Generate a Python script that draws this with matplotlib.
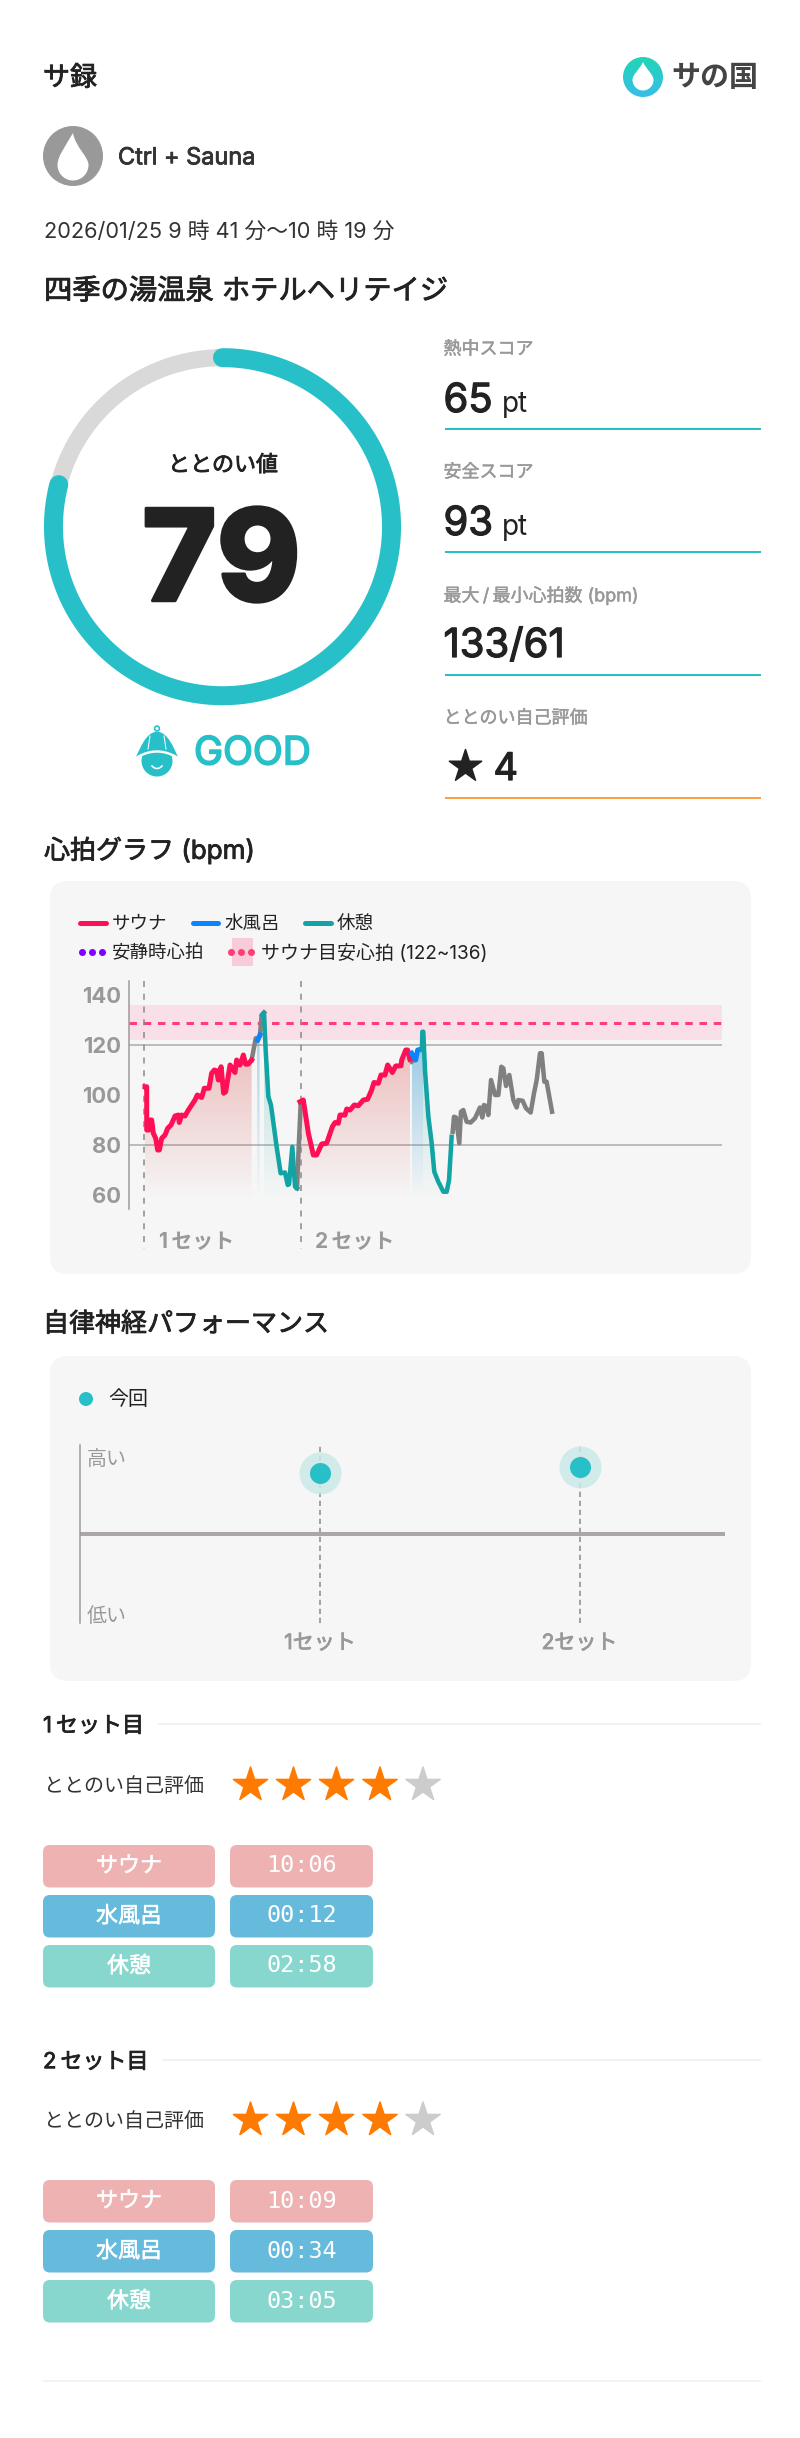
import numpy as np
import matplotlib
matplotlib.use('Agg')
import matplotlib.pyplot as plt
import matplotlib.patheffects as pe
from matplotlib.patches import Circle, FancyBboxPatch, PathPatch, Rectangle
from matplotlib.path import Path

plt.rcParams['font.family'] = ['Inter', 'Noto Sans CJK JP', 'DejaVu Sans']

W, H = 800, 2438
DPI = 100

TEAL = '#28C0C8'
INK = '#222222'
GREY_TEXT = '#999999'
SAUNA = '#FF0F55'
WATER = '#0A84FF'
REST = '#12A4A4'
TAIL = '#808080'
PANEL = '#F6F6F6'

# summary
SCORE = 79
SCORE_ITEMS = ['熱中スコア', '安全スコア', '最大\u2009/\u2009最小心拍数 (bpm)', 'ととのい自己評価']
HEAT_SCORE = '65'
SAFE_SCORE = '93'
MAX_MIN_HR = '133/61'
SELF_RATING = '4'

# heart rate, minutes from the first set against bpm
SAUNA1_T = [0.08, 0.23, 0.23, 0.42, 0.51, 0.65, 0.79, 0.99, 1.16, 1.30, 1.50, 1.78, 2.01, 2.29, 2.63, 2.91, 2.99,
            3.19, 3.47, 3.76, 4.04, 4.32, 4.52, 4.89, 5.11, 5.51, 5.73, 5.96, 6.16, 6.30, 6.53, 6.75, 6.92, 7.29,
            7.49, 7.71, 7.85, 8.14, 8.42, 8.62, 8.84, 9.12]
SAUNA1_BPM = [103.3, 103.3, 86, 86, 90, 90, 84.7, 82.7, 78, 78, 82.7, 84, 86.7, 88, 91.6, 92, 89,
              92, 91.6, 94, 96, 98, 100, 99, 102.7, 102.7, 108.7, 110, 109.7, 106, 111.3, 100.7, 101.3, 112,
              110.7, 109, 114, 112, 116, 112.3, 112.4, 114]
WATER1_T = [9.63, 9.83]
WATER1_BPM = [122, 124]
REST1_T = [10.02, 10.17, 10.31, 10.54, 10.76, 11.24, 11.58, 11.95, 12.18, 12.29, 12.57, 12.80, 12.97]
REST1_BPM = [132, 133, 118, 99.3, 96, 79.3, 68.7, 69, 64, 64.3, 79.3, 63.3, 62.7]
SAUNA2_T = [13.22, 13.5, 13.93, 14.35, 14.63, 15.06, 15.48, 15.96, 16.19, 16.47, 16.61, 17.03, 17.18, 17.46, 17.82,
            18.16, 18.59, 18.95, 19.29, 19.49, 19.86, 20.08, 20.42, 20.65, 21.05, 21.33, 21.78, 21.84, 22.18,
            22.34, 22.54]
SAUNA2_BPM = [97.3, 98, 84.7, 76, 76, 80.4, 80.7, 87.3, 89, 88.7, 92, 92, 94.4, 94, 96,
              95.7, 98, 98.3, 102, 105, 104.7, 108, 108, 112, 109, 111.6, 111.7, 114, 118,
              118, 114.3]
WATER2_T = [22.68, 23.02, 23.19, 23.47]
WATER2_BPM = [116.7, 114, 118, 118.3]
REST2_T = [23.55, 23.59, 23.67, 23.81, 24.1, 24.38, 24.6, 24.94, 25.37, 25.65, 25.85, 26.07]
REST2_BPM = [118, 125.3, 125.3, 110, 91.3, 80.7, 69.3, 65.3, 61.3, 61.3, 66, 83.3]
GAP1_T = [9.12, 9.47, 9.63]
GAP1_BPM = [114, 122.7, 122]
GAP2_T = [9.83, 9.97, 10.17]
GAP2_BPM = [124, 132, 133]
GAP3_T = [12.97, 13.1, 13.28]
GAP3_BPM = [62.7, 78, 96.7]
GAP4_T = [22.54, 22.68]
GAP4_BPM = [114.3, 113.3]
TAIL_T = [26.16, 26.27, 26.44, 26.72, 26.86, 27.06, 27.34, 27.68, 28.05, 28.47, 28.67, 28.81, 28.98, 29.18, 29.41,
          29.75, 30.03, 30.28, 30.45, 30.68, 30.96, 31.3, 31.58, 31.72, 32.09, 32.37, 32.77, 33.05, 33.28, 33.56,
          33.7, 33.93, 34.12, 34.58]
TAIL_BPM = [85.3, 91.3, 91, 80.7, 93.3, 94, 89.3, 89, 90.7, 95, 91, 96, 95.6, 92, 106,
            100, 100, 111.3, 110.7, 103.6, 108, 98, 95, 98, 97.7, 94.7, 93, 100.7, 106, 116.7,
            116.7, 105.3, 105.3, 93.3]
SET_STARTS = [0.0, 13.28]
TARGET_LOW, TARGET_HIGH = 122, 136
TARGET_MID = 129
HR_TICKS = [60, 80, 100, 120, 140]
HR_GRID = [80, 120]

# autonomic performance
PERF_SETS = [1, 2]
PERF_VALUES = [0.685, 0.753]
SET_NAMES = ['1セット', '2セット']

# set details
ROW_LABELS = ['サウナ', '水風呂', '休憩']
SET1_TIMES = ['10:06', '00:12', '02:58']
SET2_TIMES = ['10:09', '00:34', '03:05']
SET_RATINGS = [4, 4]
CHIP_COLORS = ['#EFB2B2', '#66BBDD', '#88D7CE']


def pt(px):
    return px * 72 / DPI


fig = plt.figure(figsize=(W / DPI, H / DPI), dpi=DPI, facecolor='white')
page = fig.add_axes([0, 0, 1, 1])
page.set_xlim(0, W)
page.set_ylim(H, 0)
page.axis('off')


def sub_axes(x0, y0, x1, y1, **kw):
    return fig.add_axes([x0 / W, 1 - y1 / H, (x1 - x0) / W, (y1 - y0) / H], **kw)


def thicken(t, color, amount=0.6):
    # neither Inter nor Noto CJK comes in a medium cut here, so fatten the regular one
    t.set_path_effects([pe.withStroke(linewidth=amount, foreground=color)])
    return t


def label(x, y, s, size, color=INK, medium=0, weight=400, ha='left', **kw):
    t = page.text(x, y + 0.1 * size, s, fontsize=pt(size), color=color, fontweight=weight, ha=ha, va='center', **kw)
    if medium:
        thicken(t, color, medium)
    return t


def number(x, y, s, size, medium=True):
    t = page.text(x, y, s, fontsize=pt(size), color=INK, va='baseline')
    if medium:
        thicken(t, INK, 0.9)


def rounded(x0, y0, x1, y1, r, color):
    page.add_patch(FancyBboxPatch((x0 + r, y0 + r), x1 - x0 - 2 * r, y1 - y0 - 2 * r,
                                  boxstyle=f'round,pad={r}', fc=color, ec='none'))


def hline(x0, x1, y, color, lw):
    page.plot([x0, x1], [y, y], color=color, lw=pt(lw), solid_capstyle='butt')


def drop(cx, cy, r, tip, color, bend=0.0, zorder=3):
    verts = [(cx, cy - tip), (cx + bend + r * 0.35, cy - tip * 0.55), (cx + r, cy - r * 0.55), (cx + r, cy),
             (cx + r, cy + r * 0.55), (cx + r * 0.55, cy + r), (cx, cy + r),
             (cx - r * 0.55, cy + r), (cx - r, cy + r * 0.55), (cx - r, cy),
             (cx - r, cy - r * 0.55), (cx + bend - r * 0.35, cy - tip * 0.55), (cx, cy - tip)]
    codes = [Path.MOVETO] + [Path.CURVE4] * 12
    page.add_patch(PathPatch(Path(verts, codes), fc=color, ec='none', zorder=zorder))


def star_row(y, rating):
    xs = [250.5, 293.5, 336.5, 380, 423]
    colors = ['#FF7A00' if i < rating else '#CCCCCC' for i in range(5)]
    page.scatter(xs, [y] * 5, marker='*', s=pt(36) ** 2, c=colors, linewidths=pt(1.5), edgecolors=colors)


# header
label(43, 76, 'サ録', 27, medium=0.6)
page.add_patch(Circle((73, 156), 30, fc='#999999', ec='none'))
drop(73, 165, 15.5, 32, 'white', bend=-3)
label(118, 156, 'Ctrl + Sauna', 23.5, color='#333333', medium=0.6)
label(44, 229, '2026/01/25 9 時 41 分〜10 時 19 分', 21.8, color='#333333')
label(44, 289, '四季の湯温泉 ホテルヘリテイジ', 28.3, medium=0.6)

# logo
grad = np.linspace(0, 1, 64)[:, None, None] * np.array([56 - 32, 189 - 214, 232 - 181]) / 255 \
    + np.array([32, 214, 181]) / 255
logo_im = page.imshow(grad, extent=[623, 663, 97, 57], aspect='auto', zorder=2)
logo_clip = Circle((643, 77), 20, transform=page.transData)
logo_im.set_clip_path(logo_clip)
page.set_xlim(0, W)
page.set_ylim(H, 0)
drop(643, 80, 10.5, 18, 'white')
label(714.5, 76, 'サの国', 29, color='#444444', weight=700, ha='center')

# gauge
R_OUT = 178.5
CX, CY = 222.5, 526.7
ring = sub_axes(CX - R_OUT, CY - R_OUT, CX + R_OUT, CY + R_OUT, polar=True)
ring.set_theta_zero_location('N')
ring.set_theta_direction(-1)
ring.set_rlim(0, 1)
ring.axis('off')
track = np.linspace(0, 2 * np.pi, 361)
ring.plot(track, np.full(361, 0.947), color='#D9D9D9', lw=pt(17), clip_on=False)
arc = np.linspace(0, 2 * np.pi * SCORE / 100, 300)
ring.plot(arc, np.full(300, 0.947), color=TEAL, lw=pt(19), solid_capstyle='round', clip_on=False)

label(223, 463, 'ととのい値', 22, medium=0.6, ha='center')
label(221.5, 555, str(SCORE), 127, weight=800, medium=2.2, ha='center')
label(194, 750, 'GOOD', 39, color=TEAL, medium=1.2)

# helmet mascot
page.add_patch(Circle((157, 728.5), 2.4, fc='white', ec=TEAL, lw=pt(1.6)))
page.add_patch(Circle((157, 761), 15.5, fc=TEAL, ec='none'))
hat_verts = [(136, 758), (141, 748), (146, 733), (157, 732), (168, 733), (173, 748), (178, 758), (157, 749), (136, 758)]
hat_codes = [Path.MOVETO, Path.CURVE4, Path.CURVE4, Path.CURVE4, Path.CURVE4, Path.CURVE4, Path.CURVE4,
             Path.LINETO, Path.CLOSEPOLY]
page.add_patch(PathPatch(Path(hat_verts, hat_codes), fc=TEAL, ec=TEAL, lw=pt(1)))
brim = np.linspace(136, 178, 30)
page.plot(brim, 751.5 + 6.5 * ((brim - 157) / 21) ** 2, color='white', lw=pt(2.4))
page.plot([150, 148], [736, 749], color='white', lw=pt(1))
page.plot([164, 166], [736, 749], color='white', lw=pt(1))
smile = np.linspace(152, 162, 14)
page.plot(smile, 766 + 2.5 * (1 - ((smile - 157) / 5) ** 2), color='white', lw=pt(1.6))

# score column
for y, s in zip([348, 471, 594, 717], SCORE_ITEMS):
    label(443.5, y, s, 18, color=GREY_TEXT, medium=0.35)
number(443.5, 412, HEAT_SCORE, 40)
number(501.5, 412, 'pt', 28, medium=False)
number(443.5, 535, SAFE_SCORE, 40)
number(501.5, 535, 'pt', 28, medium=False)
number(443.5, 657, MAX_MIN_HR, 40)
page.scatter([465], [766], marker='*', s=pt(34) ** 2, c=INK, linewidths=pt(1.5), edgecolors=INK)
number(493.5, 780, SELF_RATING, 38)
for y, c in zip([429, 552, 675], [TEAL] * 3):
    hline(445, 761, y, c, 2)
hline(445, 761, 798, '#FF9F43', 2)

# heart rate section
label(44, 848, '心拍グラフ (bpm)', 26, medium=0.6)
rounded(50, 881, 751, 1274, 18, PANEL)

page.plot([80, 106], [923, 923], color=SAUNA, lw=pt(5), solid_capstyle='round')
label(112, 923, 'サウナ', 18.5)
page.plot([193, 218], [923, 923], color=WATER, lw=pt(5), solid_capstyle='round')
label(224, 923, '水風呂', 18.5)
page.plot([305, 331], [923, 923], color=REST, lw=pt(5), solid_capstyle='round')
label(337, 923, '休憩', 18.5)
page.plot([82, 92, 102], [952, 952, 952], ls='none', marker='o', ms=pt(7), color='#8000FF', mew=0)
label(112, 952, '安静時心拍', 18.5)
page.add_patch(Rectangle((232, 938), 21, 28, fc='#F7CBD8', ec='none'))
page.plot([231, 241, 251], [952, 952, 952], ls='none', marker='o', ms=pt(7), color='#FF3D77', mew=0)
label(261, 952, 'サウナ目安心拍 (122~136)', 19)

X0, X1, Y0, Y1 = 129, 722, 981, 1209
PX_PER_MIN = 11.8
hr = sub_axes(X0, Y0, X1, Y1, facecolor='none')

hr.axhspan(TARGET_LOW, TARGET_HIGH, color='#F9DFE8', lw=0, zorder=0)
for g in HR_GRID:
    hr.axhline(g, color='#AAAAAA', lw=pt(1.5), zorder=1)
hr.axhline(TARGET_MID, color='#FF3D77', lw=pt(3), dashes=(2.5, 2.25), zorder=2)


def shade(ts, bpm, rgb, top_alpha):
    poly = hr.fill_between(ts, bpm, 58, color='none', lw=0)
    ramp = np.zeros((128, 2, 4))
    ramp[..., :3] = rgb
    ramp[..., 3] = np.linspace(top_alpha, 0, 128)[:, None]
    im = hr.imshow(ramp, extent=[min(ts), max(ts), 58, 128], aspect='auto', origin='upper', zorder=1.5,
                   interpolation='bilinear')
    im.set_clip_path(poly.get_paths()[0], transform=hr.transData)


PINK_RGB = (0.86, 0.30, 0.30)
BLUE_RGB = (0.15, 0.58, 0.82)
GREEN_RGB = (0.10, 0.68, 0.62)
shade(SAUNA1_T, SAUNA1_BPM, PINK_RGB, 0.38)
shade([9.56, 9.80], [122, 124], BLUE_RGB, 0.36)
shade(REST1_T[1:], REST1_BPM[1:], GREEN_RGB, 0.30)
shade(SAUNA2_T, SAUNA2_BPM, PINK_RGB, 0.38)
shade(WATER2_T + [23.62], WATER2_BPM + [124], BLUE_RGB, 0.50)
shade(REST2_T[1:], REST2_BPM[1:], GREEN_RGB, 0.30)

for ts, bpm in [(GAP1_T, GAP1_BPM), (GAP2_T, GAP2_BPM), (GAP3_T, GAP3_BPM), (GAP4_T, GAP4_BPM), (TAIL_T, TAIL_BPM)]:
    hr.plot(ts, bpm, color=TAIL, lw=pt(4.5), zorder=3, solid_joinstyle='round')
for ts, bpm in [(SAUNA1_T, SAUNA1_BPM), (SAUNA2_T, SAUNA2_BPM)]:
    hr.plot(ts, bpm, color=SAUNA, lw=pt(5), zorder=4, solid_joinstyle='round')
for ts, bpm in [(WATER1_T, WATER1_BPM), (WATER2_T, WATER2_BPM)]:
    hr.plot(ts, bpm, color=WATER, lw=pt(5), zorder=4, solid_joinstyle='round')
for ts, bpm in [(REST1_T, REST1_BPM), (REST2_T, REST2_BPM)]:
    hr.plot(ts, bpm, color=REST, lw=pt(4.5), zorder=4, solid_joinstyle='round')

for start, name in zip(SET_STARTS, SET_NAMES):
    hr.plot([start, start], [145.6, 38.6], color='#888888', lw=pt(1.5), dashes=(4, 4.5), clip_on=False, zorder=2)
    hr.text(start + 1.25, 41, name.replace('セ', '\u2009セ'), fontsize=pt(21), color=GREY_TEXT, fontweight=700,
            va='center', clip_on=False)

hr.set_xlim(-(144 - X0) / PX_PER_MIN, (X1 - 144) / PX_PER_MIN)
hr.set_ylim(120 - (Y1 - 1045) / 2.5, 120 + (1045 - Y0) / 2.5)
hr.set_xticks([])
hr.set_yticks(HR_TICKS)
hr.tick_params(axis='y', length=0, pad=pt(8), labelsize=pt(22), labelcolor=GREY_TEXT)
for t in hr.get_yticklabels():
    t.set_fontweight(700)
for side in ['top', 'right', 'bottom']:
    hr.spines[side].set_visible(False)
hr.spines['left'].set_color('#999999')
hr.spines['left'].set_linewidth(pt(1.5))

# autonomic performance section
label(43, 1322, '自律神経パフォーマンス', 26, medium=0.6)
rounded(50, 1356, 751, 1681, 18, PANEL)
page.add_patch(Circle((86, 1399), 7, fc=TEAL, ec='none'))
label(108, 1398, '今回', 20)

PX0, PX1, PY0, PY1 = 80, 725, 1445, 1623
perf = sub_axes(PX0, PY0, PX1, PY1, facecolor='none')
PX_PER_SET = 259.5
for s in PERF_SETS:
    perf.axvline(s, color='#888888', lw=pt(1.5), dashes=(3.5, 2.5), zorder=1)
perf.axhline(0, color='#AAA6AA', lw=pt(4), zorder=2)
perf.scatter(PERF_SETS, PERF_VALUES, s=pt(42) ** 2, color='#CBE9E9', alpha=0.85, lw=0, zorder=3, clip_on=False)
perf.scatter(PERF_SETS, PERF_VALUES, s=pt(21) ** 2, color=TEAL, lw=0, zorder=4, clip_on=False)
perf.set_xlim(1 - (320 - PX0) / PX_PER_SET, 1 + (PX1 - 320) / PX_PER_SET)
perf.set_ylim(-1, 1)
perf.set_xticks(PERF_SETS)
perf.set_xticklabels(SET_NAMES, fontsize=pt(21), color=GREY_TEXT)
for t in perf.get_xticklabels():
    thicken(t, GREY_TEXT)
perf.set_yticks([])
perf.tick_params(axis='x', length=0, pad=pt(10))
for side in ['top', 'right', 'bottom']:
    perf.spines[side].set_visible(False)
perf.spines['left'].set_color('#999999')
perf.spines['left'].set_linewidth(pt(1.5))
label(87, 1458, '高い', 20, color=GREY_TEXT)
label(87, 1615, '低い', 20, color=GREY_TEXT)

# set details
SET_TOPS = [1845, 2180]
HEADER_Y = [1724, 2060]
HEADER_NAMES = ['1\u2009セット目', '2\u2009セット目']
RULE_START = [158, 162]
RATING_Y = [1785, 2120]
for i, times in enumerate([SET1_TIMES, SET2_TIMES]):
    label(43, HEADER_Y[i], HEADER_NAMES[i], 22, medium=0.6)
    hline(RULE_START[i], 761, HEADER_Y[i], '#EEEEEE', 1.5)
    label(44, RATING_Y[i], SCORE_ITEMS[3], 20, color='#333333')
    star_row(RATING_Y[i], SET_RATINGS[i])
    for j, (name, value, color) in enumerate(zip(ROW_LABELS, times, CHIP_COLORS)):
        top = SET_TOPS[i] + j * 50
        rounded(43, top, 215, top + 42.5, 7, color)
        rounded(230, top, 373, top + 42.5, 7, color)
        label(129, top + 19, name, 22, color='white', medium=0.4, ha='center')
        page.text(301.5, top + 21, value, fontsize=pt(23.5), color='white', ha='center', va='center',
                  family='DejaVu Sans Mono')
hline(43, 761, 2381, '#EEEEEE', 1.5)

fig.savefig('out.png', dpi=DPI, facecolor='white')
